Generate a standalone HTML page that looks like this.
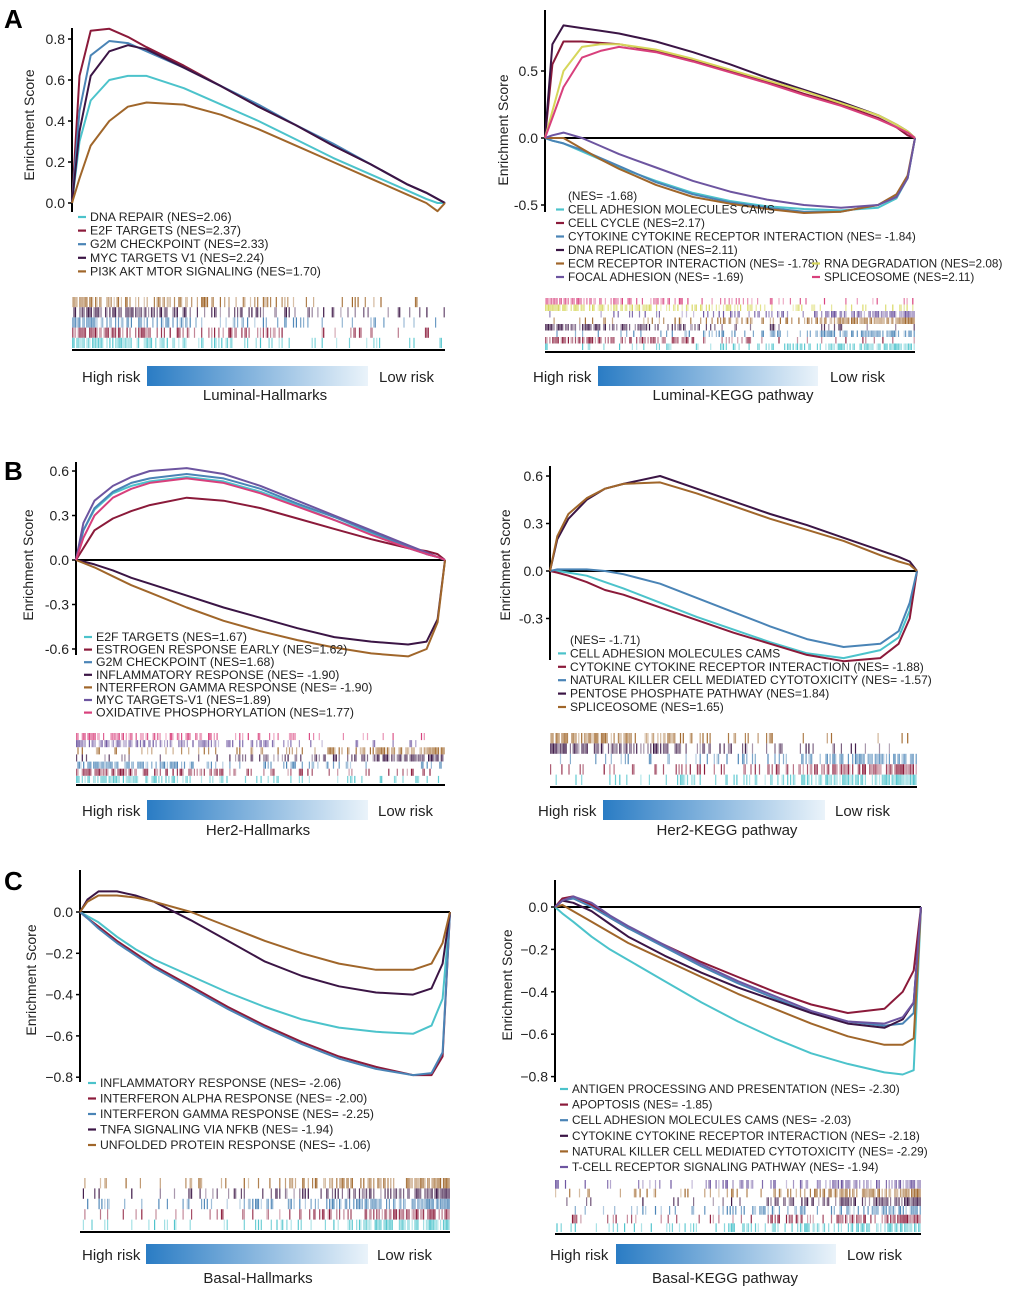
<!DOCTYPE html>
<html><head><meta charset="utf-8"><style>
html,body{margin:0;padding:0;background:#fff;}
svg{display:block;font-family:"Liberation Sans",Arial,sans-serif;}
</style></head><body>
<svg id="fig" width="1020" height="1293" viewBox="0 0 1020 1293" xmlns="http://www.w3.org/2000/svg">
<defs>
<linearGradient id="rg" x1="0" x2="1" y1="0" y2="0"><stop offset="0" stop-color="#2a7cc4"/><stop offset="1" stop-color="#eaf3fa"/></linearGradient>
</defs>
<text x="4" y="28" font-size="26" font-weight="bold">A</text>
<text x="4" y="480" font-size="26" font-weight="bold">B</text>
<text x="4" y="890" font-size="26" font-weight="bold">C</text>
</svg>
<script>
const C={cy:"#4cc3cb",rd:"#8b1a3a",st:"#4a84b6",dp:"#3b1545",br:"#a0662a",ye:"#d6d65a",pk:"#d8407c",pu:"#6d55a0"};
const rankGrid=[0,.02,.05,.1,.15,.2,.3,.4,.5,.6,.7,.8,.9,.95,.98,1];

// Panel A left
const a1Ticks=[0,0.2,0.4,0.6,0.8];
const a1TickLabels=["0.0","0.2","0.4","0.6","0.8"];
const a1Colors=[C.cy,C.rd,C.st,C.dp,C.br];
const a1Names=["DNA REPAIR (NES=2.06)","E2F TARGETS (NES=2.37)","G2M CHECKPOINT (NES=2.33)","MYC TARGETS V1 (NES=2.24)","PI3K AKT MTOR SIGNALING (NES=1.70)"];
const a1Series=[
[0,.3,.5,.6,.62,.62,.56,.48,.4,.31,.22,.14,.06,.02,0,0],
[0,.62,.84,.85,.81,.76,.67,.57,.47,.38,.28,.19,.09,.05,.02,0],
[0,.45,.72,.79,.78,.74,.66,.57,.48,.38,.29,.19,.09,.05,.02,0],
[0,.35,.62,.74,.77,.75,.66,.57,.47,.38,.28,.19,.09,.05,.02,0],
[0,.12,.28,.4,.47,.49,.48,.43,.36,.28,.2,.12,.04,0,-.04,0]];
const a1Side=[1,1,1,1,1];

// Panel A right
const a2Ticks=[-0.5,0,0.5];
const a2TickLabels=["-0.5","0.0","0.5"];
const a2Colors=[C.cy,C.rd,C.st,C.dp,C.br,C.pu,C.ye,C.pk];
const a2Names=["CELL ADHESION MOLECULES CAMS","CELL CYCLE (NES=2.17)","CYTOKINE CYTOKINE RECEPTOR INTERACTION (NES= -1.84)","DNA REPLICATION (NES=2.11)","ECM RECEPTOR INTERACTION (NES= -1.78)","FOCAL ADHESION (NES= -1.69)","RNA DEGRADATION (NES=2.08)","SPLICEOSOME (NES=2.11)"];
const a2Series=[
[0,-.02,-.04,-.1,-.16,-.22,-.32,-.41,-.47,-.51,-.53,-.54,-.52,-.45,-.3,0],
[0,.55,.72,.72,.71,.7,.65,.58,.5,.42,.33,.25,.15,.08,.02,0],
[0,-.02,-.04,-.09,-.15,-.21,-.33,-.42,-.48,-.52,-.55,-.55,-.5,-.43,-.3,0],
[0,.7,.84,.82,.8,.78,.72,.64,.55,.45,.36,.27,.17,.1,.05,0],
[0,0,0,-.08,-.16,-.23,-.35,-.44,-.49,-.53,-.56,-.55,-.5,-.42,-.28,0],
[0,.02,.04,0,-.06,-.12,-.22,-.32,-.4,-.46,-.5,-.52,-.5,-.44,-.3,0],
[0,.2,.5,.68,.7,.7,.66,.59,.51,.43,.35,.26,.17,.1,.05,0],
[0,.15,.38,.6,.65,.68,.64,.57,.49,.41,.32,.24,.14,.08,.04,0]];
const a2Side=[-1,1,-1,1,-1,-1,1,1];

// Panel B left
const b1Ticks=[-0.6,-0.3,0,0.3,0.6];
const b1TickLabels=["-0.6","-0.3","0.0","0.3","0.6"];
const b1Colors=[C.cy,C.rd,C.st,C.dp,C.br,C.pu,C.pk];
const b1Names=["E2F TARGETS (NES=1.67)","ESTROGEN RESPONSE EARLY (NES=1.62)","G2M CHECKPOINT (NES=1.68)","INFLAMMATORY RESPONSE (NES= -1.90)","INTERFERON GAMMA RESPONSE (NES= -1.90)","MYC TARGETS-V1 (NES=1.89)","OXIDATIVE PHOSPHORYLATION (NES=1.77)"];
const b1Series=[
[0,.2,.34,.45,.5,.53,.56,.53,.46,.37,.27,.18,.08,.04,.02,0],
[0,.08,.2,.28,.33,.37,.42,.4,.35,.28,.21,.14,.08,.06,.04,0],
[0,.2,.35,.46,.52,.55,.58,.55,.48,.38,.29,.19,.09,.04,.02,0],
[0,-.01,-.03,-.07,-.12,-.16,-.24,-.32,-.39,-.46,-.52,-.55,-.57,-.55,-.4,0],
[0,-.02,-.05,-.11,-.17,-.22,-.32,-.41,-.48,-.54,-.59,-.63,-.65,-.6,-.42,0],
[0,.25,.4,.5,.56,.6,.62,.58,.5,.4,.3,.2,.1,.05,.02,0],
[0,.15,.3,.42,.48,.52,.55,.52,.45,.36,.27,.17,.08,.04,.02,0]];
const b1Side=[1,1,1,-1,-1,1,1];

// Panel B right
const b2Ticks=[-0.3,0,0.3,0.6];
const b2TickLabels=["-0.3","0.0","0.3","0.6"];
const b2Colors=[C.cy,C.rd,C.st,C.dp,C.br];
const b2Names=["CELL ADHESION MOLECULES CAMS","CYTOKINE CYTOKINE RECEPTOR INTERACTION (NES= -1.88)","NATURAL KILLER CELL MEDIATED CYTOTOXICITY (NES= -1.57)","PENTOSE PHOSPHATE PATHWAY (NES=1.84)","SPLICEOSOME (NES=1.65)"];
const b2Series=[
[0,0,-.01,-.03,-.07,-.11,-.2,-.29,-.37,-.45,-.52,-.55,-.5,-.42,-.25,0],
[0,-.01,-.03,-.07,-.12,-.15,-.23,-.31,-.39,-.46,-.53,-.57,-.55,-.46,-.3,0],
[0,.01,.01,.01,0,-.02,-.08,-.17,-.26,-.35,-.43,-.48,-.46,-.38,-.2,0],
[0,.2,.33,.45,.52,.55,.6,.52,.44,.36,.29,.21,.13,.09,.06,0],
[0,.22,.36,.46,.52,.55,.56,.49,.41,.33,.26,.19,.1,.06,.04,0]];
const b2Side=[-1,-1,-1,1,1];

// Panel C left
const c1Ticks=[-0.8,-0.6,-0.4,-0.2,0];
const c1TickLabels=["−0.8","−0.6","−0.4","−0.2","0.0"];
const c1Colors=[C.cy,C.rd,C.st,C.dp,C.br];
const c1Names=["INFLAMMATORY RESPONSE (NES= -2.06)","INTERFERON ALPHA RESPONSE (NES= -2.00)","INTERFERON GAMMA RESPONSE (NES= -2.25)","TNFA SIGNALING VIA NFKB (NES= -1.94)","UNFOLDED PROTEIN RESPONSE (NES= -1.06)"];
const c1Series=[
[0,-.02,-.05,-.12,-.18,-.23,-.31,-.39,-.46,-.52,-.56,-.58,-.59,-.55,-.42,0],
[0,-.03,-.07,-.14,-.2,-.26,-.36,-.46,-.55,-.63,-.7,-.75,-.79,-.79,-.7,0],
[0,-.03,-.08,-.15,-.21,-.27,-.37,-.47,-.56,-.64,-.71,-.76,-.79,-.78,-.68,0],
[0,.06,.1,.1,.08,.05,-.04,-.14,-.24,-.31,-.36,-.39,-.4,-.37,-.25,0],
[0,.05,.08,.08,.07,.05,0,-.07,-.14,-.2,-.25,-.28,-.28,-.25,-.15,0]];
const c1Side=[-1,-1,-1,-1,-1];

// Panel C right
const c2Ticks=[-0.8,-0.6,-0.4,-0.2,0];
const c2TickLabels=["−0.8","−0.6","−0.4","−0.2","0.0"];
const c2Colors=[C.cy,C.rd,C.st,C.dp,C.br,C.pu];
const c2Names=["ANTIGEN PROCESSING AND PRESENTATION (NES= -2.30)","APOPTOSIS (NES= -1.85)","CELL ADHESION MOLECULES CAMS (NES= -2.03)","CYTOKINE CYTOKINE RECEPTOR INTERACTION (NES= -2.18)","NATURAL KILLER CELL MEDIATED CYTOTOXICITY (NES= -2.29)","T-CELL RECEPTOR SIGNALING PATHWAY (NES= -1.94)"];
const c2Series=[
[0,-.03,-.07,-.14,-.2,-.25,-.35,-.45,-.54,-.62,-.69,-.74,-.78,-.79,-.77,0],
[0,.04,.05,.01,-.05,-.1,-.18,-.26,-.33,-.4,-.46,-.5,-.48,-.4,-.3,0],
[0,.03,.04,0,-.05,-.1,-.19,-.28,-.36,-.43,-.5,-.54,-.56,-.55,-.5,0],
[0,.03,.02,-.02,-.08,-.14,-.23,-.31,-.38,-.44,-.5,-.55,-.57,-.53,-.45,0],
[0,.01,-.02,-.07,-.12,-.17,-.25,-.33,-.41,-.48,-.55,-.61,-.65,-.65,-.62,0],
[0,.03,.05,.02,-.04,-.09,-.18,-.27,-.35,-.42,-.49,-.54,-.55,-.52,-.45,0]];
const c2Side=[-1,-1,-1,-1,-1,-1];

const panels=[
{id:"luminal-hallmarks",x0:72,x1:445,yZero:203,unit:205,yTop:28,yBot:212,zeroLine:false,ticks:a1Ticks,tl:a1TickLabels,col:a1Colors,names:a1Names,ser:a1Series,side:a1Side,
 legX:78,legY:217,legDy:13.6,legFs:12.3,legPre:null,bc:[297,350],grad:[147,368,366],hi:82,lo:379,title:"Luminal-Hallmarks",titleX:265,titleY:400,ytx:34,yty:125},
{id:"luminal-kegg",x0:545,x1:915,yZero:138,unit:134,yTop:10,yBot:212,zeroLine:true,ticks:a2Ticks,tl:a2TickLabels,col:a2Colors,names:a2Names,ser:a2Series,side:a2Side,
 legX:556,legY:196,legDy:13.5,legFs:11.8,legPre:"(NES= -1.68)",bc:[298,352],grad:[598,818,366],hi:533,lo:830,title:"Luminal-KEGG pathway",titleX:733,titleY:400,ytx:508,yty:130,twoCol:6,col2dx:256},
{id:"her2-hallmarks",x0:76,x1:445,yZero:560,unit:148.3,yTop:462,yBot:655,zeroLine:true,ticks:b1Ticks,tl:b1TickLabels,col:b1Colors,names:b1Names,ser:b1Series,side:b1Side,
 legX:84,legY:637,legDy:12.6,legFs:12.3,legPre:null,bc:[733,785],grad:[147,368,800],hi:82,lo:378,title:"Her2-Hallmarks",titleX:258,titleY:835,ytx:33,yty:565},
{id:"her2-kegg",x0:550,x1:917,yZero:571,unit:158.3,yTop:466,yBot:660,zeroLine:true,ticks:b2Ticks,tl:b2TickLabels,col:b2Colors,names:b2Names,ser:b2Series,side:b2Side,
 legX:558,legY:640,legDy:13.4,legFs:12.0,legPre:"(NES= -1.71)",bc:[733,787],grad:[603,825,800],hi:538,lo:835,title:"Her2-KEGG pathway",titleX:727,titleY:835,ytx:510,yty:565},
{id:"basal-hallmarks",x0:80,x1:450,yZero:912,unit:206.5,yTop:870,yBot:1082,zeroLine:true,ticks:c1Ticks,tl:c1TickLabels,col:c1Colors,names:c1Names,ser:c1Series,side:c1Side,
 legX:88,legY:1083,legDy:15.5,legFs:12.2,legPre:null,bc:[1178,1232],grad:[146,368,1244],hi:82,lo:377,title:"Basal-Hallmarks",titleX:258,titleY:1283,ytx:36,yty:980},
{id:"basal-kegg",x0:555,x1:921,yZero:907,unit:212,yTop:880,yBot:1082,zeroLine:true,ticks:c2Ticks,tl:c2TickLabels,col:c2Colors,names:c2Names,ser:c2Series,side:c2Side,
 legX:560,legY:1089,legDy:15.6,legFs:11.8,legPre:null,bc:[1180,1234],grad:[616,836,1244],hi:550,lo:847,title:"Basal-KEGG pathway",titleX:725,titleY:1283,ytx:512,yty:985}
];

const NS="http://www.w3.org/2000/svg";
const svg=document.getElementById("fig");
function mk(tag,attrs,parent,text){const e=document.createElementNS(NS,tag);for(const k in attrs)e.setAttribute(k,attrs[k]);if(text!=null)e.textContent=text;(parent||svg).appendChild(e);return e;}
function hash(a,b){let h=(a*374761393+b*668265263)|0;h=(h^(h>>>13))*1274126177|0;h=h^(h>>>16);return ((h>>>0)%10000)/10000;}

panels.forEach((p,pi)=>{
  const g=mk("g",{});
  
  
  const sx=f=>p.x0+f*(p.x1-p.x0);
  const sy=v=>p.yZero-v*p.unit;
  const ax=mk("line",{x1:p.x0,x2:p.x0,y1:p.yTop,y2:p.yBot,stroke:"#000","stroke-width":2},g);
  
  
  p.ticks.forEach((t,i)=>{
    const y=sy(t);
    mk("line",{x1:p.x0-4,x2:p.x0,y1:y,y2:y,stroke:"#000","stroke-width":1.5},g);
    const tx=mk("text",{x:p.x0-7,y:y+5,"text-anchor":"end","font-size":14,fill:"#222"},g,p.tl[i]);
    
    
  });
  const yt=mk("text",{x:p.ytx,y:p.yty,"text-anchor":"middle","font-size":14,fill:"#222",transform:`rotate(-90 ${p.ytx} ${p.yty})`},g,"Enrichment Score");
  
  
  if(p.zeroLine){
    const zl=mk("line",{x1:p.x0,x2:p.x1,y1:sy(0),y2:sy(0),stroke:"#000","stroke-width":2},g);
    
    
  }
  p.ser.forEach((s,si)=>{
    const pts=s.map((v,i)=>sx(rankGrid[i]).toFixed(1)+","+sy(v).toFixed(1)).join(" ");
    const pl=mk("polyline",{points:pts,fill:"none",stroke:p.col[si],"stroke-width":2,"stroke-linejoin":"round"},g);
    
    
  });
  let ly=p.legY;
  if(p.legPre){mk("text",{x:p.legX+12,y:ly+4,"font-size":p.legFs,fill:"#222"},g,p.legPre);ly+=p.legDy;}
  p.names.forEach((n,i)=>{
    let x=p.legX,y=ly+i*p.legDy;
    if(p.twoCol!=null&&i>=p.twoCol){x=p.legX+p.col2dx;y=ly+(i-p.twoCol+4)*p.legDy;}
    const le=mk("g",{},g);
    
    
    mk("line",{x1:x,x2:x+8,y1:y,y2:y,stroke:p.col[i],"stroke-width":2.2},le);
    mk("text",{x:x+12,y:y+4,"font-size":p.legFs,fill:"#222"},le,n);
  });
  const nr=p.ser.length,bh=(p.bc[1]-p.bc[0]-2)/nr;
  const bcg=mk("g",{},g);
  
  
  for(let r=0;r<nr;r++){
    const si=nr-1-r;const y=p.bc[0]+r*bh;
    for(let k=0;k<260;k++){
      const f=k/260;const d=p.side[si]>0?(1-f):f;
      const prob=0.12+0.7*Math.pow(d,2.2);
      if(hash(k+pi*1000,si+7)<prob){
        mk("rect",{x:sx(f).toFixed(1),y:y.toFixed(1),width:1.2,height:bh.toFixed(1),fill:p.col[si],opacity:(0.35+0.65*hash(k,si+99)).toFixed(2)},bcg);
      }
    }
  }
  mk("line",{x1:p.x0,x2:p.x1,y1:p.bc[1],y2:p.bc[1],stroke:"#000","stroke-width":2},g);
  const gr=mk("rect",{x:p.grad[0],y:p.grad[2],width:p.grad[1]-p.grad[0],height:20,fill:"url(#rg)"},g);
  
  
  const h=mk("text",{x:p.hi,y:p.grad[2]+16,"font-size":15,fill:"#222"},g,"High risk");
  
  
  const l=mk("text",{x:p.lo,y:p.grad[2]+16,"font-size":15,fill:"#222"},g,"Low risk");
  
  
  const t=mk("text",{x:p.titleX,y:p.titleY,"text-anchor":"middle","font-size":15,fill:"#222"},g,p.title);
  
  
});
</script>
</body></html>
